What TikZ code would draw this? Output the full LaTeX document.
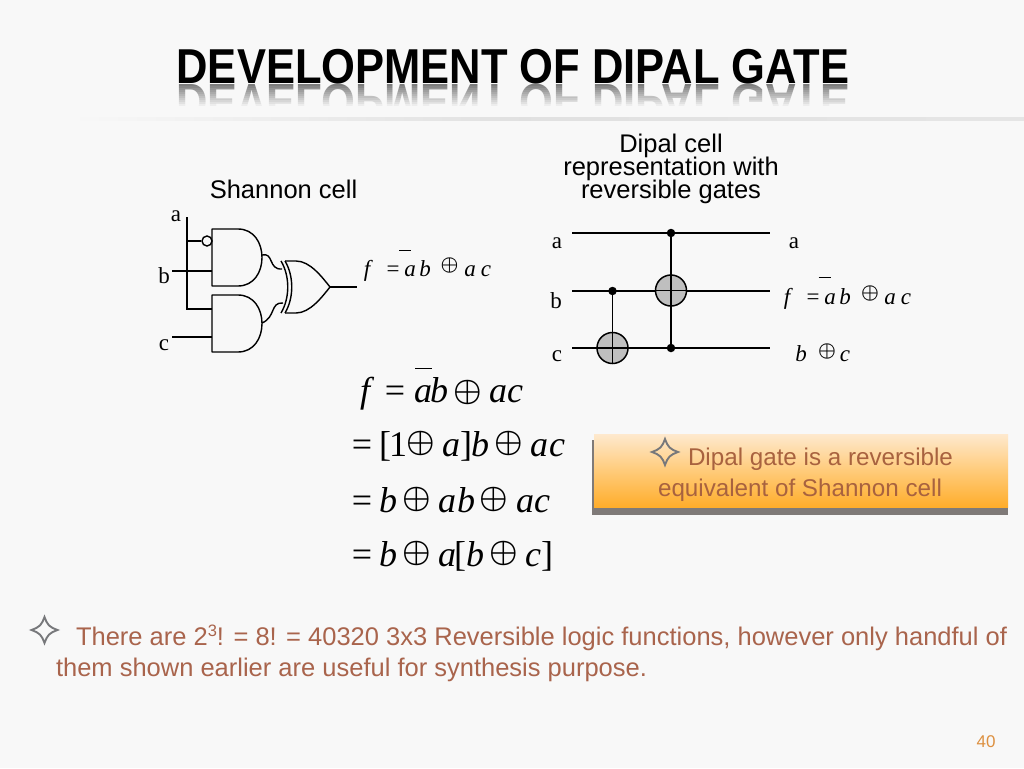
\documentclass[tikz,border=0pt]{standalone}
\usepackage{fontspec}
\setmainfont{Liberation Sans}
\newfontfamily\serifrm{Liberation Serif}
\definecolor{bg}{HTML}{F8F8F8}
\definecolor{bodytxt}{HTML}{A9644C}
\definecolor{boxtxt}{HTML}{A8623F}
\definecolor{stargray}{HTML}{77787B}
\definecolor{pagenum}{HTML}{DD9040}
\definecolor{shadowgray}{HTML}{7F7A78}
\definecolor{boxtop}{HTML}{FEE9CE}
\definecolor{boxmid}{HTML}{FFCB7A}
\definecolor{boxbot}{HTML}{FFAD2B}
\tikzset{
  txt/.style={inner sep=0,outer sep=0,anchor=base},
  head/.style={txt,font=\fontsize{25.5}{29}\selectfont,text=black},
  lbl/.style={txt,font=\serifrm\fontsize{23}{26}\selectfont},
  smi/.style={txt,font=\serifrm\itshape\fontsize{23}{25}\selectfont},
  smr/.style={txt,font=\serifrm\fontsize{23}{25}\selectfont},
  smo/.style={inner sep=0,outer sep=0,anchor=center,scale=2,font=\boldmath},
  bigi/.style={txt,font=\serifrm\itshape\fontsize{36}{40}\selectfont},
  bigr/.style={txt,font=\serifrm\fontsize{36}{40}\selectfont},
  bigo/.style={inner sep=0,outer sep=0,anchor=center,scale=3.2,font=\boldmath},
  wire/.style={draw=black,line width=1.5pt},
  gatew/.style={draw=black,line width=1.4pt},
  dotn/.style={circle,fill=black,inner sep=0,minimum size=8.5pt},
  xorc/.style={circle,draw=black,line width=1.5pt,fill=black!25,inner sep=0,minimum size=31pt},
  starp/.style={draw=stargray,line width=1.9pt,line join=miter},
  body/.style={txt,anchor=base west,font=\fontsize{25.5}{30}\selectfont,text=bodytxt},
  boxt/.style={txt,font=\fontsize{24.2}{29}\selectfont,text=boxtxt},
}
\newcommand{\foursstar}[3]{% x y r
  \draw[starp] (#1-#3,#2) .. controls (#1-0.35*#3,#2-0.25*#3) and (#1-0.25*#3,#2-0.35*#3) .. (#1,#2-#3)
    .. controls (#1+0.25*#3,#2-0.35*#3) and (#1+0.35*#3,#2-0.25*#3) .. (#1+#3,#2)
    .. controls (#1+0.35*#3,#2+0.25*#3) and (#1+0.25*#3,#2+0.35*#3) .. (#1,#2+#3)
    .. controls (#1-0.25*#3,#2+0.35*#3) and (#1-0.35*#3,#2+0.25*#3) .. cycle;}
\newcommand{\titletext}{\fontsize{49}{56}\selectfont\bfseries DEVELOPMENT OF DIPAL GATE}
\begin{document}
\begin{tikzpicture}[x=1pt,y=-1pt]
\useasboundingbox (0,0) rectangle (1024,768);
\fill[bg] (0,0) rectangle (1024,768);

% title with reflection
\node[txt,text=black!55,xscale=0.888,yscale=-1] (titlerefl) at (513,84) {\titletext};
\foreach \k in {0,...,11} {
  \pgfmathsetmacro{\op}{(\k+1)/12}
  \fill[bg,opacity=\op] (150,84+2*\k) rectangle (880,86+2*\k);
}
\fill[bg] (150,108) rectangle (880,122);
\node[txt,text=black,xscale=0.888] (title) at (513,83) {\titletext};
% separator
\shade[left color=bg,right color=black!12] (70,117) rectangle (520,120);
\shade[left color=black!12,right color=black!10] (520,117) rectangle (1024,120);

% headings
\node[head] (h1) at (283.5,198) {Shannon cell};
\node[head] (h2a) at (671,152.5) {Dipal cell};
\node[head] (h2b) at (671,175.5) {representation with};
\node[head] (h2c) at (671,198) {reversible gates};

% Shannon cell
\node[lbl] (sa) at (176,221) {a};
\node[lbl] (sb) at (164,283) {b};
\node[lbl] (sc) at (164,350) {c};
\coordinate (top) at (187,217);
\coordinate (bend) at (187,309);
\coordinate (and2a) at (212,309);
\coordinate (tap) at (187,241);
\coordinate (bin) at (172,271);
\coordinate (b2) at (212,271);
\coordinate (cin) at (172,337);
\coordinate (c2) at (212,337);
\node[circle,draw=black,line width=1.4pt,fill=bg,inner sep=0,minimum size=10pt] (bub) at (207,241) {};
\draw[gatew] (top) -- (bend) -- (and2a);
\draw[gatew] (tap) -- (bub);
\draw[gatew] (bin) -- (b2);
\draw[gatew] (cin) -- (c2);
\draw[gatew,line join=round] (212,229) -- (238,229) .. controls (254,229) and (262,243) .. (262,257.5) .. controls (262,272) and (254,286) .. (238,286) -- (212,286) -- cycle;
\draw[gatew,line join=round] (212,295) -- (238,295) .. controls (254,295) and (262,309) .. (262,323.5) .. controls (262,338) and (254,352) .. (238,352) -- (212,352) -- cycle;
\draw[gatew] (262,255) .. controls (274,252) and (268,270) .. (282,269);
\draw[gatew] (262,323) .. controls (276,317) and (270,302) .. (283,303);
\draw[gatew] (285,261) .. controls (294,276) and (294,298) .. (285,313);
\draw[gatew] (281,261) .. controls (290,276) and (290,298) .. (281,313);
\draw[gatew,line join=round] (285,261) -- (296,261) .. controls (310,261) and (322,277) .. (330,287) .. controls (322,297) and (310,313) .. (296,313) -- (285,313);
\coordinate (xout) at (330,287);
\coordinate (fout) at (357,287);
\draw[gatew] (xout) -- (fout);
% left formula
\node[smi] (lf) at (367,276) {f};
\node[smr] (leq) at (393,276) {=};
\node[smi] (la) at (410,276) {a};
\node[smi] (lb) at (425,276) {b};
\node[smo] (lo) at (449.5,265) {$\oplus$};
\node[smi] (la2) at (470,276) {a};
\node[smi] (lc) at (486,276) {c};
\draw[line width=0.8pt] (399,250.5) -- (411,250.5);

% Reversible circuit
\node[lbl] (ra) at (557,248) {a};
\node[lbl] (rb) at (556,308) {b};
\node[lbl] (rc) at (557,361) {c};
\coordinate (w1l) at (572,233); \coordinate (w1r) at (770,233);
\coordinate (w2l) at (572,291); \coordinate (w2r) at (770,291);
\coordinate (w3l) at (572,348); \coordinate (w3r) at (770,348);
\draw[wire] (w1l) -- (w1r);
\draw[wire] (w2l) -- (w2r);
\draw[wire] (w3l) -- (w3r);
\node[xorc] (x1) at (671,290.5) {};
\node[xorc] (x2) at (612.5,348) {};
\node[dotn] (d1) at (671,233) {};
\node[dotn] (d2) at (671,348) {};
\node[dotn] (d3) at (612.5,291) {};
\draw[wire] (d1) -- (d2);
\draw[wire] (d3) -- (x2.south);
\draw[wire] (x1.west) -- (x1.east);
\draw[wire] (x2.west) -- (x2.east);
\node[lbl] (rao) at (794,248) {a};
\node[smi] (rf) at (787,304) {f};
\node[smr] (req) at (813,304) {=};
\node[smi] (ra1) at (830,304) {a};
\node[smi] (rb1) at (845,304) {b};
\node[smo] (ro) at (870,293) {$\oplus$};
\node[smi] (ra2) at (890,304) {a};
\node[smi] (rc1) at (906,304) {c};
\draw[line width=0.8pt] (818.5,277.5) -- (830.5,277.5);
\node[smi] (sb1) at (801,361) {b};
\node[smo] (so) at (827,351) {$\oplus$};
\node[smi] (sc1) at (845,361) {c};

% Big equations
\node[bigi] (e1f) at (365,402) {f};
\node[bigr] (e1e) at (395,402) {=};
\node[bigi] (e1a) at (423,402) {a};
\node[bigi] (e1b) at (439,402) {b};
\node[bigo] (e1o) at (468,392) {$\oplus$};
\node[bigi] (e1a2) at (498,402) {a};
\node[bigi] (e1c) at (515,402) {c};
\draw[line width=0.9pt] (415,368) -- (432,368);

\node[bigr] (e2e) at (362,456) {=};
\node[bigr] (e2l) at (385,456) {[};
\node[bigr] (e2n) at (398,456) {1};
\node[bigo] (e2o) at (421,443) {$\oplus$};
\node[bigi] (e2a) at (451,456) {a};
\node[bigr] (e2r) at (466,456) {]};
\node[bigi] (e2b) at (480,456) {b};
\node[bigo] (e2o2) at (509,443) {$\oplus$};
\node[bigi] (e2a2) at (539,456) {a};
\node[bigi] (e2c) at (557,456) {c};

\node[bigr] (e3e) at (362,512) {=};
\node[bigi] (e3b) at (388,512) {b};
\node[bigo] (e3o) at (417,499) {$\oplus$};
\node[bigi] (e3a) at (447,512) {a};
\node[bigi] (e3b2) at (466,512) {b};
\node[bigo] (e3o2) at (494,499) {$\oplus$};
\node[bigi] (e3a2) at (525,512) {a};
\node[bigi] (e3c) at (542,512) {c};

\node[bigr] (e4e) at (362,566) {=};
\node[bigi] (e4b) at (388,566) {b};
\node[bigo] (e4o) at (417,553) {$\oplus$};
\node[bigi] (e4a) at (447,566) {a};
\node[bigr] (e4l) at (460,566) {[};
\node[bigi] (e4b2) at (475,566) {b};
\node[bigo] (e4o2) at (504,553) {$\oplus$};
\node[bigi] (e4c) at (533,566) {c};
\node[bigr] (e4r) at (547,566) {]};

% callout box
\fill[shadowgray] (592,440) rectangle (594,515);
\fill[shadowgray] (592,508) rectangle (1008,515);
\shade[top color=boxtop,bottom color=boxbot,middle color=boxmid] (594,434) rectangle (1008,507);
\foursstar{665}{452}{13}
\node[boxt] (bx1) at (820.5,465) {Dipal gate is a reversible};
\node[boxt] (bx2) at (800,496) {equivalent of Shannon cell};

% bottom text
\foursstar{44.5}{630}{13}
\node[body] (t1) at (76,645) {There are 2\raisebox{0.33em}{\fontsize{16.5}{18}\selectfont 3}! = 8! = 40320 3x3 Reversible logic functions, however only handful of};
\node[body] (t2) at (56,676) {them shown earlier are useful for synthesis purpose.};
\node[txt,font=\fontsize{17}{19}\selectfont,text=pagenum] (pg) at (986,747) {40};
\end{tikzpicture}
\end{document}
